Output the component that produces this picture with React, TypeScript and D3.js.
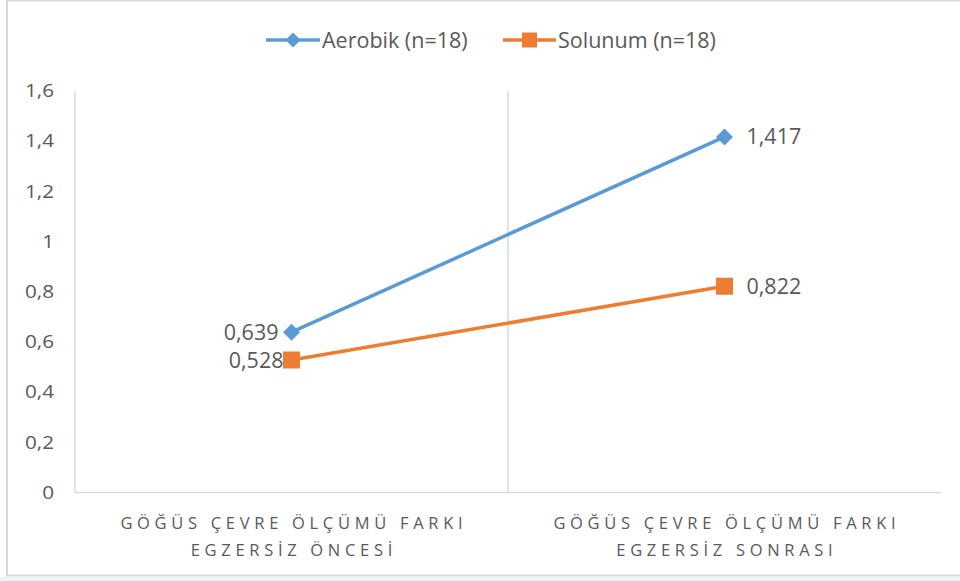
import React from 'react';
import * as d3 from 'd3';

// data
const categories = ['GÖĞÜS ÇEVRE ÖLÇÜMÜ FARKI|EGZERSİZ ÖNCESİ', 'GÖĞÜS ÇEVRE ÖLÇÜMÜ FARKI|EGZERSİZ SONRASI'];
const aerobik = [0.639, 1.417];
const solunum = [0.528, 0.822];
const yTicks = [0, 0.2, 0.4, 0.6, 0.8, 1, 1.2, 1.4, 1.6];
const seriesNames = ['Aerobik (n=18)', 'Solunum (n=18)'];

const W = 960, H = 581;
const left = 75, right = 941, top = 91, bottom = 492.5;
const BLUE = '#5B9BD5', ORANGE = '#ED7D31', GRID = '#d9d9d9', TXT = '#595959';
const FONT = "'Open Sans', 'Noto Sans', sans-serif";

const fmt = (v: number) => String(v).replace('.', ',');

export default function App() {
  const x = d3.scaleBand().domain(categories).range([left, right]);
  const y = d3.scaleLinear().domain([0, 1.6]).range([bottom, top]);
  const cx = (c: string) => (x(c) as number) + x.bandwidth() / 2;
  const line = d3.line<number>().x((_, i) => cx(categories[i])).y(d => y(d));

  const diamond = (px: number, py: number, r: number) =>
    `M${px},${py - r}L${px + r},${py}L${px},${py + r}L${px - r},${py}Z`;

  const ls = 4.7;

  return (
    <svg width={W} height={H} style={{ position: 'absolute', left: 0, top: 0 }}>
      <rect x={0} y={0} width={W} height={H} fill="#fff" />
      {/* chart border */}
      <rect x={7} y={0.5} width={W + 10} height={575} fill="none" stroke={GRID} strokeWidth={2} />
      <rect x={0} y={577} width={W} height={4} fill="#f2f2f2" />

      {/* axes lines */}
      <line x1={left} x2={left} y1={top} y2={bottom} stroke={GRID} strokeWidth={1.5} />
      <line x1={left} x2={right} y1={bottom} y2={bottom} stroke={GRID} strokeWidth={1.5} />
      <line x1={x(categories[1]) as number} x2={x(categories[1]) as number} y1={top} y2={bottom} stroke={GRID} strokeWidth={1.5} />

      {/* y tick labels */}
      {yTicks.map(t => (
        <text key={t} transform={`translate(54,${y(t)}) scale(1.15,1)`} dy="0.35em" textAnchor="end"
          fontFamily={FONT} fontSize={18} fill={TXT}>{fmt(t)}</text>
      ))}

      {/* x category labels */}
      {categories.map(c => (
        <text key={c} textAnchor="middle" fontFamily={FONT} fontSize={16.5} fill={TXT} letterSpacing={ls}>
          {c.split('|').map((ln, i) => (
            <tspan key={i} x={cx(c) + ls / 2} y={529 + i * 27}>{ln}</tspan>
          ))}
        </text>
      ))}

      {/* series */}
      <path d={line(aerobik) as string} fill="none" stroke={BLUE} strokeWidth={3.5} strokeLinecap="round" />
      <path d={line(solunum) as string} fill="none" stroke={ORANGE} strokeWidth={3.5} strokeLinecap="round" />
      {aerobik.map((v, i) => (
        <path key={'a' + i} d={diamond(cx(categories[i]), y(v), 8.5)} fill={BLUE} />
      ))}
      {solunum.map((v, i) => (
        <rect key={'s' + i} x={cx(categories[i]) - 8.5} y={y(v) - 8.5} width={17} height={17} fill={ORANGE} />
      ))}

      {/* data labels */}
      {aerobik.map((v, i) => (
        <text key={'la' + i} x={i === 0 ? cx(categories[i]) - 13 : cx(categories[i]) + 22} y={y(v)} dy="0.35em"
          textAnchor={i === 0 ? 'end' : 'start'} fontFamily={FONT} fontSize={21.5} fill={TXT}>{fmt(v)}</text>
      ))}
      {solunum.map((v, i) => (
        <text key={'ls' + i} x={i === 0 ? cx(categories[i]) - 8 : cx(categories[i]) + 22} y={y(v)} dy="0.35em"
          textAnchor={i === 0 ? 'end' : 'start'} fontFamily={FONT} fontSize={21.5} fill={TXT}>{fmt(v)}</text>
      ))}

      {/* legend */}
      <g>
        <line x1={266} x2={320} y1={40} y2={40} stroke={BLUE} strokeWidth={3.5} />
        <path d={diamond(293, 40, 7.5)} fill={BLUE} />
        <text x={322} y={40} dy="0.35em" fontFamily={FONT} fontSize={21.5} fill={TXT}>{seriesNames[0]}</text>
        <line x1={503} x2={556} y1={40} y2={40} stroke={ORANGE} strokeWidth={3.5} />
        <rect x={522} y={32.5} width={15} height={15} fill={ORANGE} />
        <text x={558} y={40} dy="0.35em" fontFamily={FONT} fontSize={21.5} fill={TXT}>{seriesNames[1]}</text>
      </g>
    </svg>
  );
}
